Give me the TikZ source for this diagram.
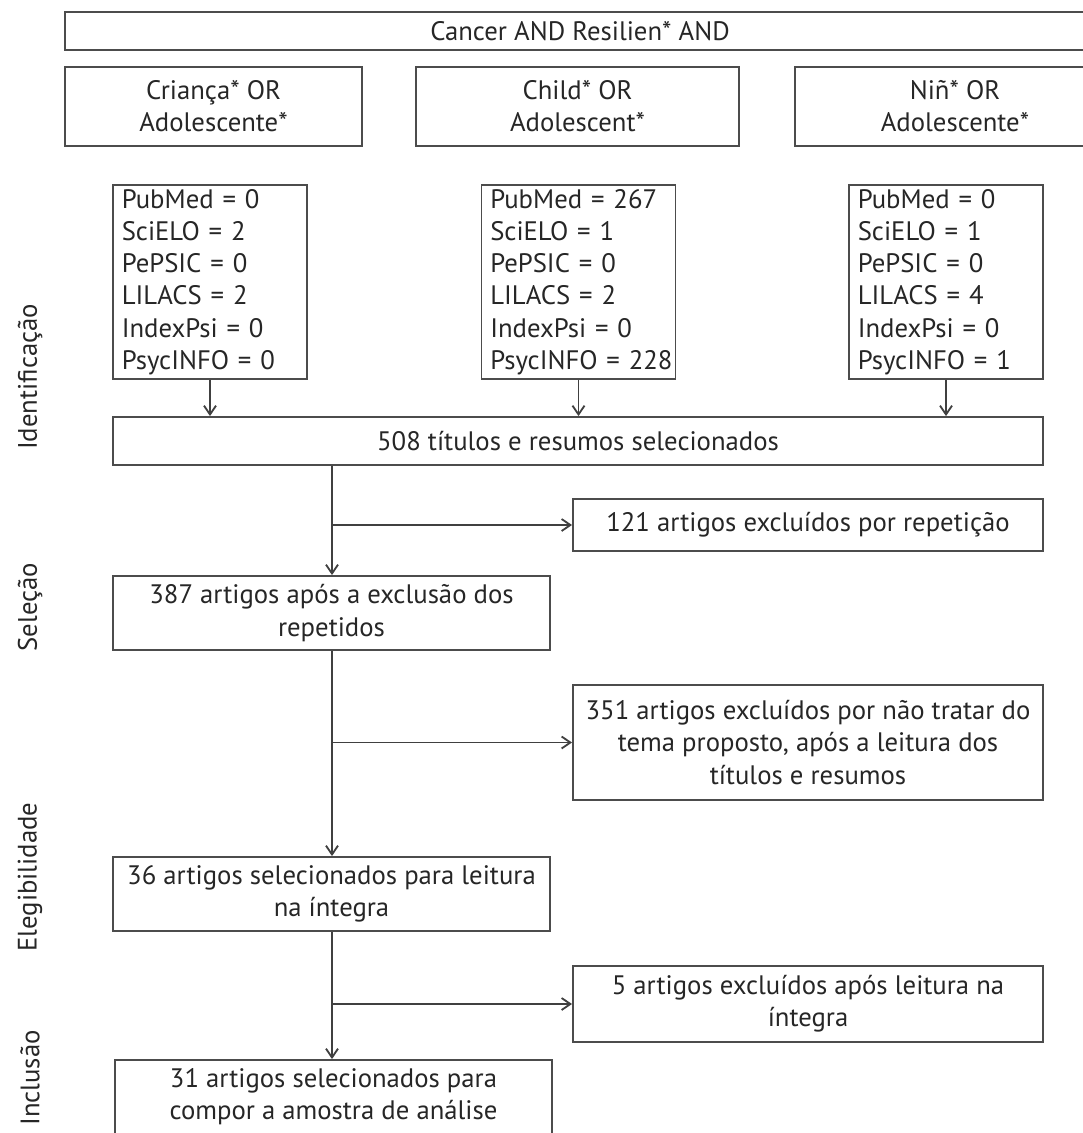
\documentclass[tikz,border=0pt]{standalone}
\usepackage{fontspec}
\setmainfont{PT Sans}
\usetikzlibrary{arrows.meta}

\tikzset{
  box/.style={draw=black!70, line width=1.3pt, rectangle, inner sep=0pt, align=center, text=black!85},
  base/.style={box, text width=4.41cm, inner xsep=0.22cm, align=left, minimum height=4.85cm},
  fase/.style={rotate=90, text=black!85},
  seta/.style={draw=black!75, line width=1.3pt, -{Straight Barb[length=2.2mm,width=3mm]}},
}

\begin{document}
\begin{tikzpicture}[x=0.025cm, y=-0.025cm, font=\fontsize{19}{22.9}\selectfont]
\useasboundingbox (0,0) rectangle (1083,1133);
\clip (0,0) rectangle (1083,1133);

\node[box, minimum width=25.75cm, minimum height=0.95cm] (busca) at (580,31) {Cancer AND Resilien* AND};

\node[box, minimum width=7.425cm, minimum height=1.975cm] (pt) at (213.5,106.5) {Criança* OR\\Adolescente*};
\node[box, minimum width=8.075cm, minimum height=1.975cm] (en) at (577.5,106.5) {Child* OR\\Adolescent*};
\node[box, minimum width=8cm, minimum height=1.975cm] (es) at (955,106.5) {Niñ* OR\\Adolescente*};

\node[base] (pm1) at (210,282) {PubMed = 0\\SciELO = 2\\PePSIC = 0\\LILACS = 2\\IndexPsi = 0\\PsycINFO = 0};
\node[base] (pm2) at (578.5,282) {PubMed = 267\\SciELO = 1\\PePSIC = 0\\LILACS = 2\\IndexPsi = 0\\PsycINFO~=~228};
\node[base] (pm3) at (946,282) {PubMed = 0\\SciELO = 1\\PePSIC = 0\\LILACS = 4\\IndexPsi = 0\\PsycINFO = 1};

\node[box, minimum width=23.25cm, minimum height=1.2cm] (t508) at (578,441) {508 títulos e resumos selecionados};
\node[box, minimum width=11.75cm, minimum height=1.3cm] (ex121) at (808,525) {121 artigos excluídos por repetição};
\node[box, minimum width=10.925cm, minimum height=1.85cm] (a387) at (331.5,613) {387 artigos após a exclusão dos\\repetidos};
\node[box, minimum width=11.75cm, minimum height=2.875cm] (ex351) at (808,742.5) {351 artigos excluídos por não tratar do\\tema proposto, após a leitura dos\\títulos e resumos};
\node[box, minimum width=10.925cm, minimum height=1.85cm] (a36) at (331.5,894) {36 artigos selecionados para leitura\\na íntegra};
\node[box, minimum width=11.75cm, minimum height=1.9cm] (ex5) at (808,1004) {5 artigos excluídos após leitura na\\íntegra};
\node[box, minimum width=10.925cm, minimum height=1.85cm] (a31) at (333.5,1097) {31 artigos selecionados para\\compor a amostra de análise};

\node[fase] (f1) at (30,377) {Identificação};
\node[fase] (f2) at (30,607) {Seleção};
\node[fase] (f3) at (30,877) {Elegibilidade};
\node[fase] (f4) at (30,1078) {Inclusão};

\coordinate (tronco) at (332,0);

\draw[seta] (pm1.south) -- (pm1.south |- t508.north);
\draw[seta] (pm2.south) -- (pm2.south |- t508.north);
\draw[seta] (pm3.south) -- (pm3.south |- t508.north);

\draw[seta] (t508.south -| tronco) -- (a387.north -| tronco);
\draw[seta] (ex121.west -| tronco) -- (ex121.west);

\draw[seta] (a387.south -| tronco) -- (a36.north -| tronco);
\draw[seta] (ex351.west -| tronco) -- (ex351.west);

\draw[seta] (a36.south -| tronco) -- (a31.north -| tronco);
\draw[seta] (ex5.west -| tronco) -- (ex5.west);

\end{tikzpicture}
\end{document}
